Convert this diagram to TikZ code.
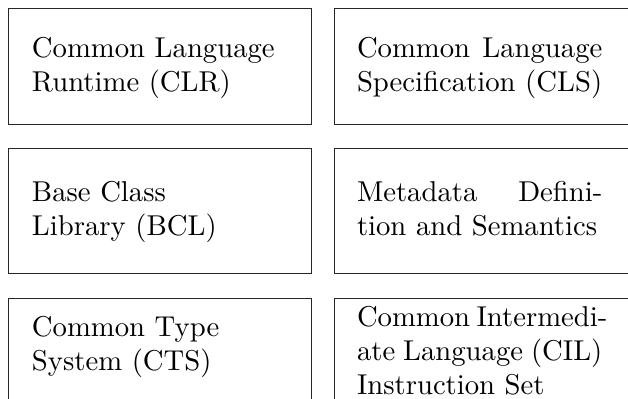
\documentclass[tikz,border=0pt]{standalone}
\newlength\pxu
\setlength\pxu{0.34843pt}
% a line set to the full column width, spaces stretched
\newcommand\fullline[1]{\hbox to 85.5pt{#1}}
\begin{document}
\begin{tikzpicture}[x=\pxu, y=-\pxu,
  cell/.style={draw=black!85, line width=0.32pt, inner sep=0pt, outer sep=0pt,
    anchor=north west, minimum width=303\pxu},
  label text/.style={inner sep=0pt, outer sep=0pt, anchor=base west}]
\useasboundingbox (0,0) rectangle (628,398);
\clip (0,0) rectangle (628,398);

% left column
\node[cell, minimum height=116\pxu] (clr) at (8,8) {};
\node[cell, minimum height=125\pxu] (bcl) at (8,148) {};
\node[cell, minimum height=125\pxu] (cts) at (8,298) {};
% right column
\node[cell, minimum height=116\pxu] (cls) at (334,8) {};
\node[cell, minimum height=125\pxu] (mds) at (334,148) {};
\node[cell, minimum height=125\pxu] (cil) at (334,298) {};

% texts, anchored at the baseline of their first line
\node[label text] (clr-t) at (32,57)
  {\vtop{\hbox{Common Language}\hbox{Runtime (CLR)}}};
\node[label text] (bcl-t) at (32,201)
  {\vtop{\hbox{Base Class}\hbox{Library (BCL)}}};
\node[label text] (cts-t) at (32,336)
  {\vtop{\hbox{Common Type}\hbox{System (CTS)}}};
\node[label text] (cls-t) at (357,57)
  {\vtop{\fullline{Common Language}\hbox{Specification (CLS)}}};
\node[label text] (mds-t) at (357,201)
  {\vtop{\fullline{Metadata Defini-}\hbox{tion and Semantics}}};
\node[label text] (cil-t) at (357,326)
  {\vtop{\fullline{Common Intermedi-}\fullline{ate Language (CIL)}\hbox{Instruction Set}}};
\end{tikzpicture}
\end{document}
